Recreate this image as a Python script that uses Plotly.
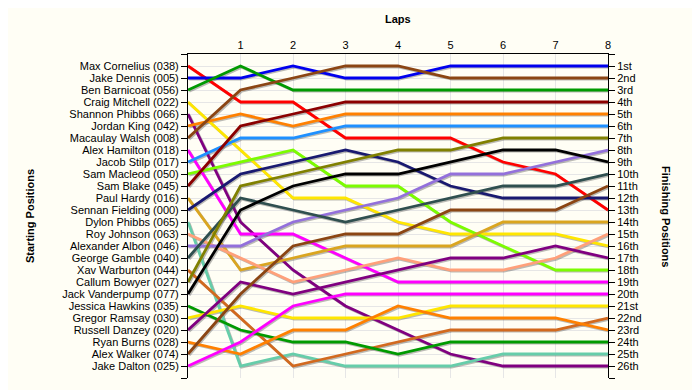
import plotly.graph_objects as go

laps = [0, 1, 2, 3, 4, 5, 6, 7, 8]
lap_labels = ["", "1", "2", "3", "4", "5", "6", "7", "8"]

drivers = [
    "Max Cornelius (038)", "Jake Dennis (005)", "Ben Barnicoat (056)", "Craig Mitchell (022)",
    "Shannon Phibbs (066)", "Jordan King (042)", "Macaulay Walsh (008)", "Alex Hamilton (018)",
    "Jacob Stilp (017)", "Sam Macleod (050)", "Sam Blake (045)", "Paul Hardy (016)",
    "Sennan Fielding (000)", "Dylon Phibbs (065)", "Roy Johnson (063)", "Alexander Albon (046)",
    "George Gamble (040)", "Xav Warburton (044)", "Callum Bowyer (027)", "Jack Vanderpump (077)",
    "Jessica Hawkins (035)", "Gregor Ramsay (030)", "Russell Danzey (020)", "Ryan Burns (028)",
    "Alex Walker (074)", "Jake Dalton (025)",
]

finish_labels = ["1st", "2nd", "3rd", "4th", "5th", "6th", "7th", "8th", "9th", "10th",
                 "11th", "12th", "13th", "14th", "15th", "16th", "17th", "18th", "19th",
                 "20th", "21st", "22nd", "23rd", "24th", "25th", "26th"]

# positions per lap (lap 0 = start)
max_cornelius = [1, 4, 4, 7, 7, 7, 9, 10, 13]
jake_dennis = [2, 2, 1, 2, 2, 1, 1, 1, 1]
ben_barnicoat = [3, 1, 3, 3, 3, 3, 3, 3, 3]
craig_mitchell = [4, 8, 12, 12, 14, 15, 15, 15, 16]
shannon_phibbs = [5, 14, 18, 21, 23, 25, 26, 26, 26]
jordan_king = [6, 5, 6, 5, 5, 5, 5, 5, 5]
macaulay_walsh = [7, 3, 2, 1, 1, 2, 2, 2, 2]
alex_hamilton = [8, 15, 15, 17, 19, 19, 19, 19, 19]
jacob_stilp = [9, 7, 7, 6, 6, 6, 6, 6, 6]
sam_macleod = [10, 9, 8, 11, 11, 14, 16, 18, 18]
sam_blake = [11, 6, 5, 4, 4, 4, 4, 4, 4]
paul_hardy = [12, 18, 17, 16, 16, 16, 14, 14, 14]
sennan_fielding = [13, 10, 9, 8, 9, 11, 12, 12, 12]
dylon_phibbs = [14, 26, 25, 26, 26, 26, 25, 25, 25]
roy_johnson = [15, 17, 19, 18, 17, 18, 18, 17, 15]
alexander_albon = [16, 16, 14, 13, 12, 10, 10, 9, 8]
george_gamble = [17, 12, 13, 14, 13, 12, 11, 11, 10]
xav_warburton = [18, 22, 26, 25, 24, 23, 23, 23, 22]
callum_bowyer = [19, 11, 10, 9, 8, 8, 7, 7, 7]
jack_vanderpump = [20, 13, 11, 10, 10, 9, 8, 8, 9]
jessica_hawkins = [21, 23, 24, 24, 25, 24, 24, 24, 24]
gregor_ramsay = [22, 21, 22, 22, 22, 21, 21, 21, 21]
russell_danzey = [23, 19, 20, 19, 18, 17, 17, 16, 17]
ryan_burns = [24, 25, 23, 23, 21, 22, 22, 22, 23]
alex_walker = [25, 20, 16, 15, 15, 13, 13, 13, 11]
jake_dalton = [26, 24, 21, 20, 20, 20, 20, 20, 20]

series = [max_cornelius, jake_dennis, ben_barnicoat, craig_mitchell, shannon_phibbs,
          jordan_king, macaulay_walsh, alex_hamilton, jacob_stilp, sam_macleod, sam_blake,
          paul_hardy, sennan_fielding, dylon_phibbs, roy_johnson, alexander_albon,
          george_gamble, xav_warburton, callum_bowyer, jack_vanderpump, jessica_hawkins,
          gregor_ramsay, russell_danzey, ryan_burns, alex_walker, jake_dalton]

colors = ["#ff0000", "#0000ee", "#009a00", "#ffe600", "#800080", "#ff8000", "#8b4513",
          "#ff00ff", "#1e90ff", "#7cfc00", "#8b0000", "#daa520", "#191970", "#66cdaa",
          "#ffa07a", "#9370db", "#2f4f4f", "#d2691e", "#808000", "#000000",
          "#009a00", "#ffe600", "#800080", "#ff8000", "#8b4513", "#ff00ff"]

BG = "#fffef5"
GRID = "#e6e6e6"
FONT = "Liberation Sans, Arial, sans-serif"

fig = go.Figure()

# invisible base trace so the base axes render
fig.add_trace(go.Scatter(x=[0], y=[0], mode="markers", marker=dict(opacity=0),
                         showlegend=False, hoverinfo="skip"))

# shadows
for pos in series:
    fig.add_trace(go.Scatter(x=laps, y=pos, xaxis="x2", yaxis="y2", mode="lines",
                             line=dict(color="rgba(60,60,60,0.35)", width=2.8),
                             showlegend=False, hoverinfo="skip"))

# main lines
for name, pos, c in zip(drivers, series, colors):
    fig.add_trace(go.Scatter(x=laps, y=pos, xaxis="x3", yaxis="y3", mode="lines",
                             name=name, line=dict(color=c, width=2.8), showlegend=False))

ticks_all = list(range(0, 28))
left_text = [""] + drivers + [""]
right_text = [""] + finish_labels + [""]

dx = 1.2 / 52.5
dy = 1.2 / 12.0

fig.update_layout(
    width=692, height=382,
    margin=dict(l=180, r=92, t=46, b=12),
    paper_bgcolor=BG, plot_bgcolor=BG,
    font=dict(family=FONT, size=11, color="#000000"),
    xaxis=dict(range=[0, 8], side="top", tickvals=laps, ticktext=lap_labels,
               showgrid=True, gridcolor=GRID, gridwidth=1, showline=True,
               linecolor="#000000", linewidth=1, ticks="", zeroline=False,
               tickfont=dict(size=11, color="#000000")),
    yaxis=dict(range=[27, 0], tickvals=ticks_all, ticktext=left_text,
               ticks="outside", ticklen=6, tickcolor="#000000", tickwidth=1,
               showline=True, linecolor="#000000", linewidth=1,
               showgrid=True, gridcolor=GRID, gridwidth=1, zeroline=False,
               tickfont=dict(size=11, color="#000000")),
    xaxis2=dict(overlaying="x", range=[-dx, 8 - dx], visible=False),
    yaxis2=dict(overlaying="y", range=[27 - dy, -dy], visible=False),
    xaxis3=dict(overlaying="x", range=[0, 8], visible=False),
    yaxis3=dict(overlaying="y", side="right", range=[27, 0], tickvals=ticks_all,
                ticktext=right_text, ticks="outside", ticklen=6, tickcolor="#000000",
                tickwidth=1, showline=True, linecolor="#000000", linewidth=1,
                showgrid=False, zeroline=False,
                tickfont=dict(size=11, color="#000000")),
    annotations=[
        dict(text="<b>Laps</b>", xref="paper", yref="paper", x=0.5, y=1.108,
             showarrow=False, xanchor="center", yanchor="middle",
             font=dict(size=11, color="#000000")),
        dict(text="<b>Starting Positions</b>", xref="paper", yref="paper",
             x=(30 - 188) / 420, y=0.5, textangle=-90, showarrow=False,
             xanchor="center", yanchor="middle", font=dict(size=11, color="#000000")),
        dict(text="<b>Finishing Positions</b>", xref="paper", yref="paper",
             x=(666 - 188) / 420, y=0.5, textangle=90, showarrow=False,
             xanchor="center", yanchor="middle", font=dict(size=11, color="#000000")),
    ],
    hovermode="closest",
)

fig.write_html("out.html")
